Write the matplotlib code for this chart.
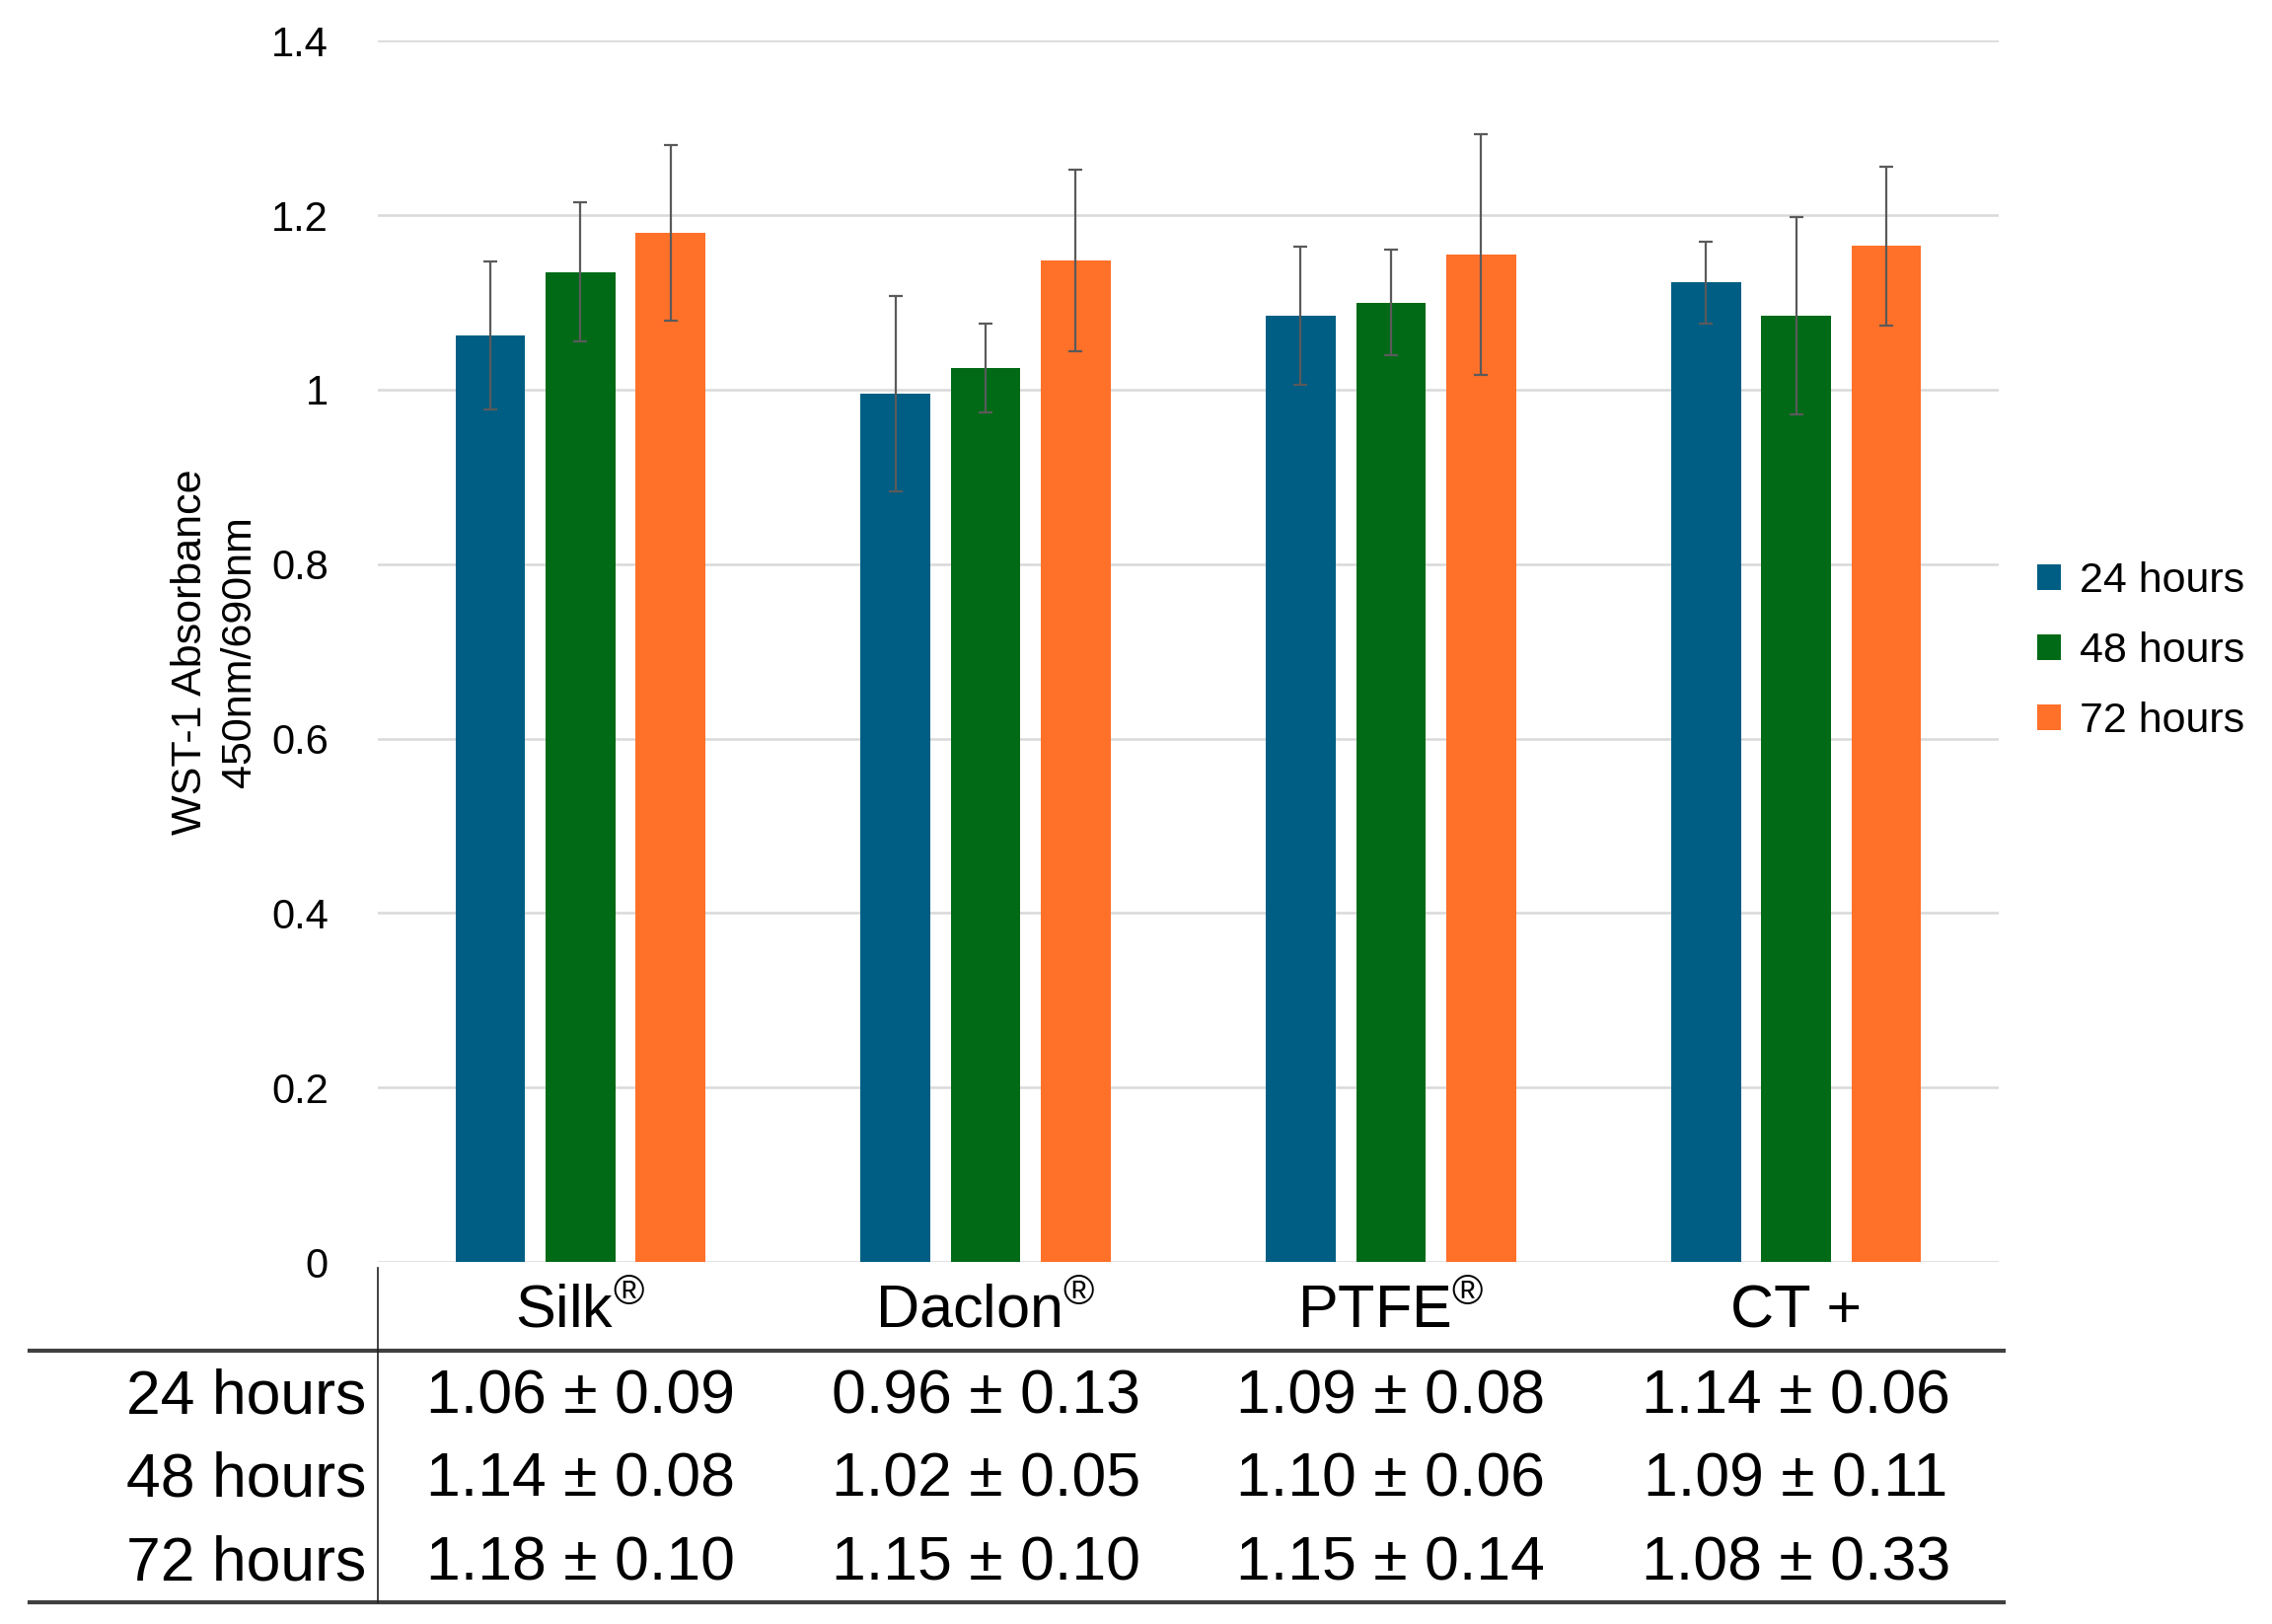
import matplotlib
matplotlib.use("Agg")
import matplotlib.pyplot as plt
import numpy as np
from matplotlib import transforms
from matplotlib.lines import Line2D

# data
materials = ["Silk$^{\\mathregular{®}}$", "Daclon$^{\\mathregular{®}}$", "PTFE$^{\\mathregular{®}}$", "CT +"]
series = ["24 hours", "48 hours", "72 hours"]
mean_24 = [1.062, 0.995, 1.085, 1.123]
mean_48 = [1.135, 1.025, 1.100, 1.085]
mean_72 = [1.180, 1.148, 1.155, 1.165]
err_24 = [0.085, 0.112, 0.079, 0.047]
err_48 = [0.080, 0.051, 0.061, 0.113]
err_72 = [0.101, 0.104, 0.138, 0.091]
table_24 = ["1.06 ± 0.09", "0.96 ± 0.13", "1.09 ± 0.08", "1.14 ± 0.06"]
table_48 = ["1.14 ± 0.08", "1.02 ± 0.05", "1.10 ± 0.06", "1.09 ± 0.11"]
table_72 = ["1.18 ± 0.10", "1.15 ± 0.10", "1.15 ± 0.14", "1.08 ± 0.33"]
yticks = [0, 0.2, 0.4, 0.6, 0.8, 1, 1.2, 1.4]

colors = ["#005E84", "#016A17", "#FF7029"]
regular = ["Liberation Sans", "DejaVu Sans"]

plt.rcParams["font.family"] = regular
plt.rcParams["mathtext.fontset"] = "custom"
plt.rcParams["mathtext.rm"] = "Liberation Sans"

fig = plt.figure(figsize=(23.03, 16.46), dpi=100)
ax = fig.add_axes([0.1663, 0.2229, 0.7134, 0.7520])

x = np.arange(len(materials))
w = 0.172
step = 0.2224
means = [mean_24, mean_48, mean_72]
errs = [err_24, err_48, err_72]
for i in range(3):
    ax.bar(x + (i - 1) * step, means[i], w, color=colors[i], label=series[i], zorder=2)
    ax.errorbar(x + (i - 1) * step, means[i], yerr=errs[i], fmt="none",
                ecolor="#5a5a5a", elinewidth=1.6, capsize=5, capthick=1.6, zorder=3)

ax.set_xlim(-0.5, len(materials) - 0.5)
ax.set_ylim(0, 1.4)
ax.set_yticks(yticks)
ax.set_yticklabels([("%g" % t) for t in yticks], fontsize=30)
ax.set_xticks([])
ax.tick_params(axis="y", length=0, pad=36)
ax.grid(axis="y", color="#d9d9d9", linewidth=1.8, zorder=0)
for s in ax.spines.values():
    s.set_visible(False)

ax.set_ylabel("WST-1 Absorbance\n450nm/690nm", fontsize=31,
              linespacing=1.3, labelpad=9)

fig.legend(loc="center left", bbox_to_anchor=(0.880, 0.599), frameon=False,
           fontsize=31, handlelength=0.55, handleheight=0.55, handletextpad=0.45,
           labelspacing=0.72)

# table under the chart
blend = transforms.blended_transform_factory(ax.transData, fig.transFigure)
for j in range(len(materials)):
    fig.text(x[j], 0.192, materials[j], transform=blend, ha="center", va="center",
             fontsize=44)

rows = [table_24, table_48, table_72]
row_y = [0.140, 0.089, 0.037]
for r in range(3):
    fig.text(0.1612, row_y[r], series[r], ha="right", va="center", fontsize=45)
    for j in range(len(materials)):
        fig.text(x[j], row_y[r], rows[r][j], transform=blend, ha="center", va="center",
                 fontsize=45)

fig.add_artist(Line2D([0.013, 0.882], [0.1685, 0.1685], color="#404040", linewidth=3))
fig.add_artist(Line2D([0.013, 0.882], [0.0135, 0.0135], color="#404040", linewidth=3))
fig.add_artist(Line2D([0.1663, 0.1663], [0.0135, 0.2195], color="#202020", linewidth=1.2))

fig.savefig("out.png", dpi=100)
